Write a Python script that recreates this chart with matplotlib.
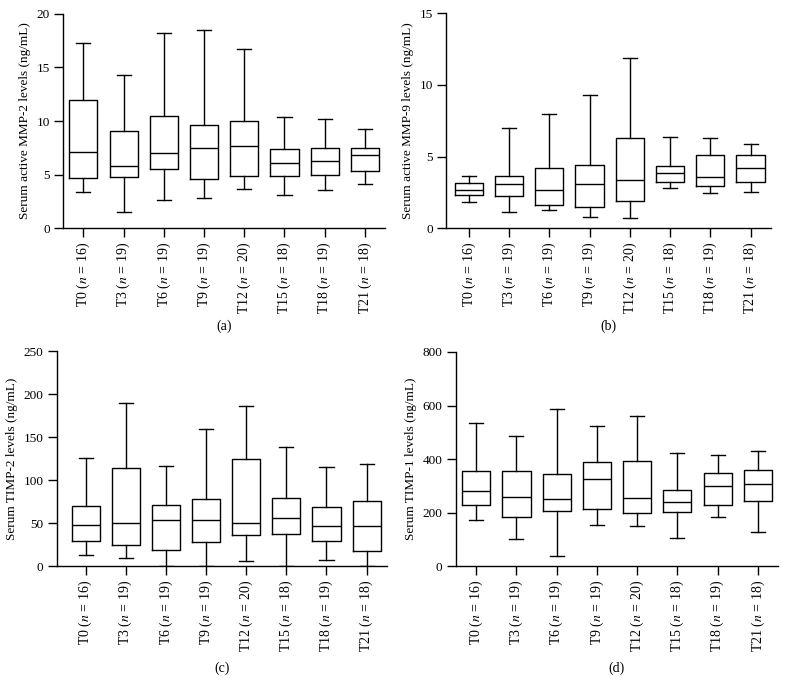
"""Box plots of serum MMP-2, MMP-9, TIMP-2 and TIMP-1 over time points."""

import matplotlib
matplotlib.use("Agg")
from matplotlib import pyplot as plt

TIMES = ["T0", "T3", "T6", "T9", "T12", "T15", "T18", "T21"]
COUNTS = [16, 19, 19, 19, 20, 18, 19, 18]

# whisker low, Q1, median, Q3, whisker high per time point
MMP2_LOW = [3.4, 1.5, 2.6, 2.8, 3.7, 3.1, 3.6, 4.1]
MMP2_Q1 = [4.7, 4.8, 5.55, 4.55, 4.9, 4.9, 4.95, 5.35]
MMP2_MED = [7.1, 5.8, 7.05, 7.45, 7.7, 6.1, 6.3, 6.8]
MMP2_Q3 = [11.95, 9.05, 10.45, 9.6, 10.0, 7.4, 7.5, 7.5]
MMP2_HIGH = [17.3, 14.3, 18.2, 18.5, 16.7, 10.4, 10.2, 9.25]

MMP9_LOW = [1.86, 1.12, 1.26, 0.77, 0.72, 2.81, 2.47, 2.51]
MMP9_Q1 = [2.35, 2.23, 1.6, 1.49, 1.88, 3.21, 2.98, 3.26]
MMP9_MED = [2.65, 3.09, 2.65, 3.09, 3.35, 3.84, 3.58, 4.23]
MMP9_Q3 = [3.19, 3.63, 4.21, 4.44, 6.28, 4.35, 5.14, 5.14]
MMP9_HIGH = [3.67, 6.98, 8.0, 9.28, 11.86, 6.4, 6.28, 5.9]

TIMP2_LOW = [13.2, 10.0, 0.7, 0.0, 6.5, 0.0, 7.0, 0.0]
TIMP2_Q1 = [29.8, 24.4, 19.3, 28.6, 36.0, 37.2, 29.0, 18.1]
TIMP2_MED = [47.7, 50.7, 53.5, 53.5, 50.0, 56.2, 46.5, 46.5]
TIMP2_Q3 = [70.2, 114.0, 70.9, 77.9, 124.4, 79.8, 68.6, 76.3]
TIMP2_HIGH = [126.0, 190.2, 116.6, 160.0, 186.7, 138.4, 115.5, 118.6]

TIMP1_LOW = [174, 102, 37, 155, 150, 106, 184, 127]
TIMP1_Q1 = [228, 185, 208, 214, 200, 202, 230, 243]
TIMP1_MED = [282, 258, 253, 325, 254, 240, 299, 308]
TIMP1_Q3 = [357, 355, 345, 389, 392, 286, 349, 361]
TIMP1_HIGH = [535, 486, 588, 525, 562, 423, 416, 432]

YLABELS = ["Serum active MMP-2 levels (ng/mL)",
           "Serum active MMP-9 levels (ng/mL)",
           "Serum TIMP-2 levels (ng/mL)",
           "Serum TIMP-1 levels (ng/mL)"]
PANEL_TAGS = ["(a)", "(b)", "(c)", "(d)"]
YTICKS = [[0, 5, 10, 15, 20], [0, 5, 10, 15],
          [0, 50, 100, 150, 200, 250], [0, 200, 400, 600, 800]]

W, H = 786, 694
# axes boxes in pixels: left, right, top, bottom, x start
PANELS = [(63.3, 385.0, 13.7, 228.3, -0.5),
          (446.3, 770.7, 13.3, 228.3, -0.56),
          (56.7, 386.7, 351.3, 566.3, -0.72),
          (455.7, 778.0, 352.0, 566.3, -0.51)]
TAG_Y = [326, 326, 668, 668]

FONT = {"family": ["Liberation Serif", "DejaVu Serif"], "size": 9.5}


def make_stats(low, q1, med, q3, high):
    return [dict(whislo=a, q1=b, med=c, q3=d, whishi=e, fliers=[])
            for a, b, c, d, e in zip(low, q1, med, q3, high)]


def main():
    plt.rc("font", **FONT)
    plt.rc("mathtext", fontset="stix")
    fig = plt.figure(figsize=(W / 100, H / 100), dpi=100)

    data = [make_stats(MMP2_LOW, MMP2_Q1, MMP2_MED, MMP2_Q3, MMP2_HIGH),
            make_stats(MMP9_LOW, MMP9_Q1, MMP9_MED, MMP9_Q3, MMP9_HIGH),
            make_stats(TIMP2_LOW, TIMP2_Q1, TIMP2_MED, TIMP2_Q3, TIMP2_HIGH),
            make_stats(TIMP1_LOW, TIMP1_Q1, TIMP1_MED, TIMP1_Q3, TIMP1_HIGH)]
    labels = [f"{t} ($\\it{{n}}$ = {n})" for t, n in zip(TIMES, COUNTS)]
    line = dict(color="black", linewidth=1.0)

    for i, stats in enumerate(data):
        left, right, top, bottom, x0 = PANELS[i]
        ax = fig.add_axes([left / W, 1 - bottom / H,
                           (right - left) / W, (bottom - top) / H])
        ax.bxp(stats, positions=range(len(stats)), widths=0.7,
               showfliers=False, boxprops=line, whiskerprops=line,
               capprops=line, medianprops=line)
        ax.set_xlim(x0, len(stats) - 0.5)
        ax.set_ylim(YTICKS[i][0], YTICKS[i][-1])
        ax.set_yticks(YTICKS[i])
        ax.set_xticks(range(len(stats)))
        ax.set_xticklabels(labels, rotation=90, fontsize=10)
        ax.set_ylabel(YLABELS[i], fontsize=9.5, labelpad=4)
        for side in ("top", "right"):
            ax.spines[side].set_visible(False)
        for side in ("left", "bottom"):
            ax.spines[side].set_linewidth(1.0)
        ax.tick_params(direction="out", length=6.5, width=1.0, pad=3)
        fig.text((left + right) / 2 / W, 1 - TAG_Y[i] / H, PANEL_TAGS[i],
                 ha="center", va="center", fontsize=10)

    fig.savefig("out.png", dpi=100)


if __name__ == "__main__":
    main()
